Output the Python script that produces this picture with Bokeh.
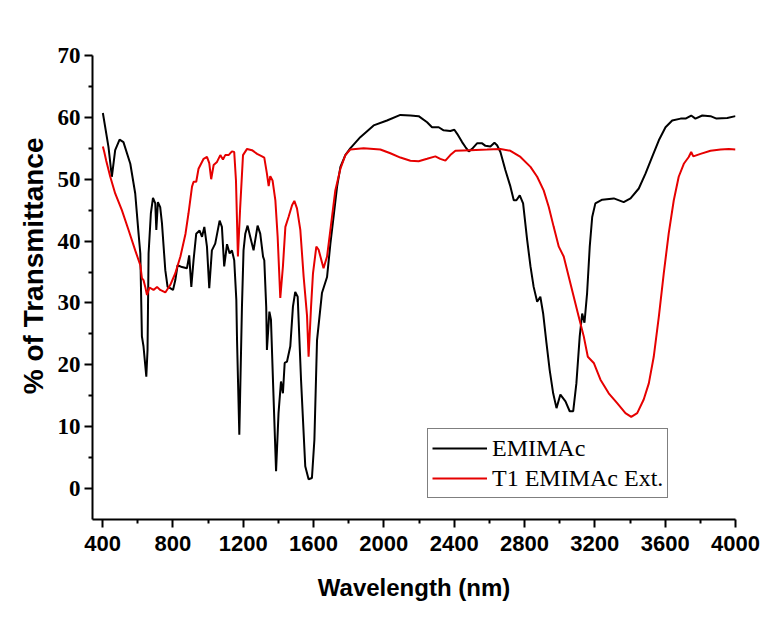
from bokeh.plotting import figure
from bokeh.models import Range1d, FixedTicker, Legend, LegendItem, Title
from bokeh.embed import file_html
from bokeh.resources import INLINE

# ---- data ----
emimac_nm = [402, 434, 453, 472, 497, 519, 558, 586, 605, 615,
             624, 633, 649, 656, 662, 675, 687, 700, 706, 715,
             728, 738, 757, 770, 785, 801, 814, 827, 852, 880,
             893, 905, 918, 933, 952, 966, 979, 994, 1007, 1022,
             1041, 1066, 1079, 1092, 1108, 1123, 1136, 1149, 1161, 1165,
             1178, 1193, 1202, 1212, 1225, 1240, 1259, 1282, 1297, 1313,
             1320, 1331, 1335, 1349, 1358, 1370, 1387, 1401, 1415, 1426,
             1436, 1449, 1468, 1483, 1496, 1510, 1529, 1553, 1572, 1591,
             1605, 1620, 1648, 1677, 1696, 1714, 1734, 1753, 1781, 1809,
             1866, 1942, 2018, 2094, 2151, 2198, 2246, 2274, 2312, 2340,
             2378, 2401, 2418, 2445, 2464, 2483, 2502, 2530, 2559, 2578,
             2606, 2629, 2644, 2663, 2691, 2720, 2739, 2754, 2773, 2792,
             2815, 2834, 2852, 2872, 2890, 2906, 2925, 2943, 2963, 2982,
             3004, 3033, 3057, 3077, 3095, 3114, 3128, 3141, 3156, 3171,
             3185, 3203, 3242, 3308, 3364, 3403, 3450, 3488, 3526, 3564,
             3602, 3640, 3688, 3716, 3748, 3772, 3811, 3858, 3892, 3953,
             4000]
emimac_t = [60.7, 55.2, 50.4, 54.7, 56.4, 56.0, 52.5, 47.7, 41.2, 38.0,
            24.6, 23.0, 18.1, 22.4, 38.0, 44.5, 47.0, 46.1, 41.8, 46.3,
            45.5, 42.9, 35.3, 32.6, 32.4, 32.1, 33.7, 36.1, 35.8, 35.6,
            37.7, 32.6, 37.0, 41.2, 41.7, 40.7, 42.3, 39.1, 32.4, 38.5,
            39.6, 43.3, 42.3, 35.9, 39.5, 38.0, 38.5, 36.9, 30.5, 24.0,
            8.7, 29.4, 38.5, 41.2, 42.5, 40.7, 38.5, 42.5, 41.2, 37.5,
            36.9, 29.4, 22.4, 28.6, 27.3, 17.0, 2.8, 12.2, 17.3, 15.4,
            20.3, 20.5, 23.0, 29.4, 31.8, 31.0, 17.6, 3.6, 1.5, 1.7,
            7.9, 24.0, 31.6, 34.2, 39.6, 43.9, 48.8, 52.0, 53.9, 55.0,
            56.8, 58.7, 59.5, 60.4, 60.3, 60.2, 59.2, 58.4, 58.4, 57.9,
            57.8, 58.0, 57.3, 56.0, 55.2, 54.5, 54.9, 55.8, 55.8, 55.4,
            55.3, 55.9, 55.5, 54.4, 51.5, 48.8, 46.6, 46.6, 47.4, 46.1,
            40.2, 35.9, 32.6, 30.2, 31.0, 28.3, 23.5, 19.2, 15.4, 13.0,
            15.2, 14.1, 12.5, 12.5, 17.0, 24.6, 28.3, 26.8, 31.6, 39.1,
            43.9, 46.1, 46.7, 46.9, 46.3, 46.9, 48.5, 50.9, 53.6, 56.3,
            58.4, 59.5, 59.8, 59.8, 60.3, 59.8, 60.3, 60.2, 59.8, 59.9,
            60.2]

ext_nm = [402, 410, 421, 444, 472, 510, 548, 586, 615, 624,
          633, 643, 653, 667, 690, 710, 728, 757, 785, 814,
          843, 872, 889, 909, 918, 933, 946, 975, 994, 1007,
          1018, 1032, 1051, 1070, 1085, 1098, 1117, 1136, 1149, 1159,
          1170, 1183, 1199, 1222, 1250, 1279, 1307, 1320, 1335, 1345,
          1354, 1367, 1383, 1396, 1411, 1426, 1440, 1458, 1478, 1491,
          1506, 1525, 1544, 1563, 1572, 1586, 1597, 1616, 1629, 1657,
          1677, 1696, 1724, 1753, 1781, 1809, 1885, 1980, 2037, 2094,
          2151, 2198, 2246, 2293, 2321, 2350, 2378, 2407, 2492, 2587,
          2663, 2720, 2777, 2834, 2872, 2909, 2938, 2966, 2995, 3023,
          3052, 3080, 3108, 3137, 3160, 3194, 3232, 3279, 3327, 3374,
          3407, 3441, 3478, 3507, 3535, 3564, 3592, 3620, 3649, 3677,
          3706, 3734, 3748, 3760, 3801, 3858, 3915, 3962, 4000]
ext_t = [55.3, 54.4, 53.0, 50.4, 47.7, 45.0, 41.8, 38.5, 36.1, 34.0,
         33.7, 32.6, 31.3, 32.5, 32.1, 32.6, 32.1, 31.7, 32.9, 34.8,
         37.5, 41.2, 44.5, 48.8, 49.6, 49.6, 51.7, 53.3, 53.6, 52.6,
         50.0, 52.3, 52.8, 53.9, 53.2, 53.9, 53.9, 54.5, 54.4, 49.8,
         37.5, 45.5, 53.9, 54.9, 54.7, 54.1, 53.7, 53.5, 50.9, 48.9,
         50.5, 49.8, 46.6, 40.7, 30.8, 35.9, 42.3, 43.9, 45.8, 46.5,
         45.3, 41.8, 34.2, 28.0, 21.3, 29.4, 34.8, 39.1, 38.6, 35.6,
         37.5, 41.8, 48.2, 51.7, 53.9, 54.8, 55.0, 54.8, 54.2, 53.5,
         53.0, 52.9, 53.3, 53.7, 53.3, 53.0, 53.9, 54.6, 54.7, 54.8,
         54.9, 54.6, 53.6, 52.0, 50.4, 48.2, 45.5, 42.3, 39.1, 37.5,
         34.2, 31.0, 27.8, 24.6, 21.3, 20.3, 17.6, 15.4, 13.8, 12.2,
         11.6, 12.2, 14.4, 17.0, 21.3, 27.8, 34.8, 41.2, 46.6, 50.4,
         52.5, 53.6, 54.4, 53.7, 54.1, 54.6, 54.8, 54.9, 54.8]

series_labels = ["EMIMAc", "T1 EMIMAc Ext."]
x_title = "Wavelength (nm)"
y_title = "% of Transmittance"
x_ticks = [400, 800, 1200, 1600, 2000, 2400, 2800, 3200, 3600, 4000]
x_minor = [600, 1000, 1400, 1800, 2200, 2600, 3000, 3400, 3800]
y_ticks = [0, 10, 20, 30, 40, 50, 60, 70]
y_minor = [5, 15, 25, 35, 45, 55, 65]

p = figure(width=760, height=612, output_backend="svg", toolbar_location=None,
           x_range=Range1d(343, 4000), y_range=Range1d(-5, 70),
           min_border_left=92, min_border_right=25, min_border_top=55,
           min_border_bottom=93)
p.grid.visible = False
p.outline_line_color = None
p.background_fill_color = "white"

r1 = p.line(emimac_nm, emimac_t, line_color="black", line_width=2)
r2 = p.line(ext_nm, ext_t, line_color="#e60000", line_width=2)

for ax in (p.xaxis[0], p.yaxis[0]):
    ax.axis_line_width = 2
    ax.major_tick_line_width = 2
    ax.minor_tick_line_width = 2
    ax.major_tick_out = 8
    ax.major_tick_in = 0
    ax.minor_tick_out = 4
    ax.minor_tick_in = 0
    ax.axis_label_text_font = "Liberation Sans"
    ax.axis_label_text_font_style = "bold"
    ax.axis_label_text_color = "black"
    ax.major_label_text_color = "black"

p.xaxis.ticker = FixedTicker(ticks=x_ticks, minor_ticks=x_minor)
p.yaxis.ticker = FixedTicker(ticks=y_ticks, minor_ticks=y_minor)

p.xaxis.major_label_text_font = "Liberation Sans"
p.xaxis.major_label_text_font_style = "bold"
p.xaxis.major_label_text_font_size = "22px"
p.xaxis.major_label_standoff = 8
p.xaxis.axis_label = x_title
p.xaxis.axis_label_text_font_size = "24px"
p.xaxis.axis_label_standoff = 20

p.yaxis.major_label_text_font = "Liberation Serif"
p.yaxis.major_label_text_font_style = "bold"
p.yaxis.major_label_text_font_size = "23px"
p.yaxis.major_label_standoff = 4

# y title as a side title, anchored near the top end of the axis
ytitle = Title(text=y_title, align="right", offset=82, standoff=8,
               vertical_align="top",
               text_font="Liberation Sans", text_font_style="bold",
               text_font_size="28px", text_color="black")
p.add_layout(ytitle, "left")

legend = Legend(items=[LegendItem(label=series_labels[0], renderers=[r1]),
                       LegendItem(label=series_labels[1], renderers=[r2])],
                location=(335, 21), margin=0, padding=4, spacing=0,
                glyph_width=55, glyph_height=30, label_height=30,
                label_standoff=5, label_text_font="Liberation Serif",
                label_text_font_size="24px", label_text_color="black",
                border_line_color="black", border_line_width=1,
                background_fill_color="white", background_fill_alpha=1.0)
p.add_layout(legend)

open("out.html", "w").write(file_html(p, INLINE))
